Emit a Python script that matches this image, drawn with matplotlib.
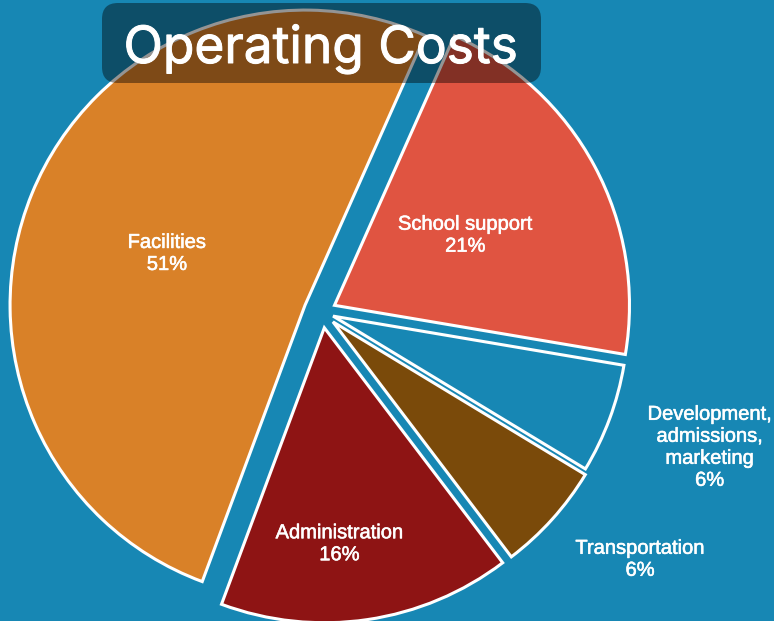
import matplotlib
matplotlib.use('Agg')
import matplotlib.pyplot as plt
import matplotlib.patheffects as pe
import numpy as np
from matplotlib.patches import FancyBboxPatch

# ---- data ----
categories = ['School support', 'Development,\nadmissions,\nmarketing',
              'Transportation', 'Administration', 'Facilities']
values = [21, 6, 6, 16, 51]
title = 'Operating Costs'

# ---- style ----
colors = ['#e05441', '#1787b4', '#7a4a0a', '#8e1414', '#d98128']
explode = [0.048, 0.04, 0.05, 0.054, 0.062]
label_dist = [0.503, 1.352, 1.316, 0.734, 0.50]
label_nudge = [0, -1.2, -4.3, 4.4, -1.7]   # degrees, clockwise positive
bg = '#1787b4'

W, H, dpi = 774, 621, 100
CX, CY, R = 322, 312, 295  # pie centre / radius in pixels

fig = plt.figure(figsize=(W / dpi, H / dpi), dpi=dpi, facecolor=bg)
ax = fig.add_axes([0, 0, 1, 1])
ax.set_facecolor(bg)

wedges, _ = ax.pie(values, colors=colors, explode=explode, startangle=66,
                   counterclock=False,
                   wedgeprops=dict(edgecolor='white', linewidth=2.2))
ax.set_xlim(-CX / R, (W - CX) / R)
ax.set_ylim(-(H - CY) / R, CY / R)
ax.axis('off')

total = sum(values)
for w, cat, v, d, n in zip(wedges, categories, values, label_dist, label_nudge):
    mid = np.deg2rad((w.theta1 + w.theta2) / 2 - n)
    cx, cy = w.center
    ax.text(cx + d * np.cos(mid), cy + d * np.sin(mid),
            f'{cat}\n{round(v / total * 100)}%',
            ha='center', va='center', color='white', fontsize=14.5,
            family='Liberation Sans', linespacing=1.2,
            path_effects=[pe.withStroke(linewidth=0.4, foreground='white')])

box = FancyBboxPatch((102, H - 83), 439, 80,
                     boxstyle='round,pad=0,rounding_size=16',
                     transform=None, fc='black', alpha=0.42, ec='none',
                     zorder=5)
fig.add_artist(box)
t = fig.text(320.5 / W, (H - 63) / H, title, ha='center', va='baseline',
             color='white', fontsize=34, family='Inter', zorder=6,
             path_effects=[pe.withStroke(linewidth=0.7, foreground='white')])
# fit title width to ~395 px
r = fig.canvas.get_renderer()
wpx = t.get_window_extent(renderer=r).width
t.set_fontsize(34 * 394 / wpx)

fig.savefig('out.png', dpi=dpi, facecolor=bg)
